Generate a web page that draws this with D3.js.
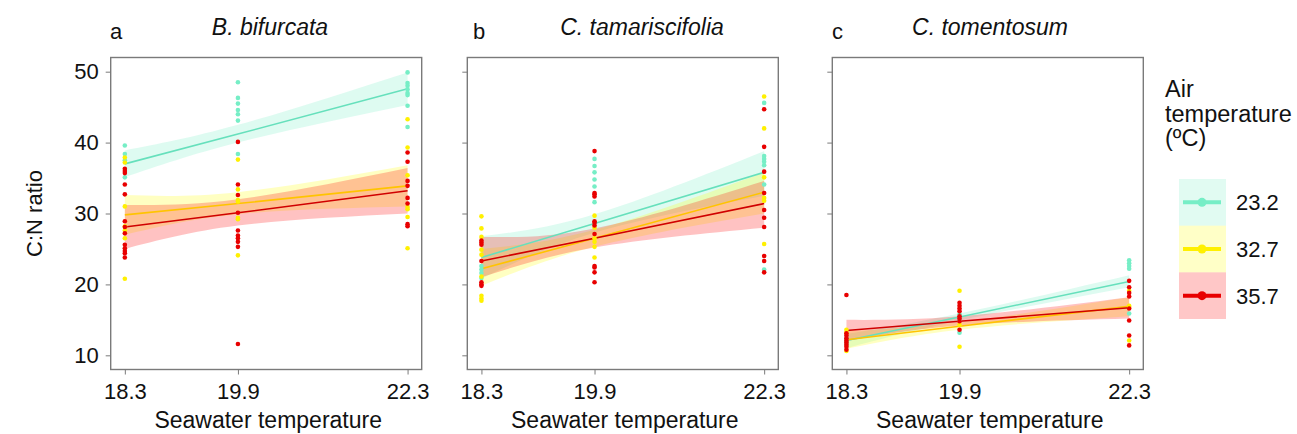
<!DOCTYPE html>
<html>
<head>
<meta charset="utf-8">
<script src="https://cdn.jsdelivr.net/npm/d3@7"></script>
<style>
body { margin: 0; background: #fff; }
svg text { font-family: "Liberation Sans", Arial, sans-serif; fill: #111; }
</style>
</head>
<body>
<div id="chart"></div>
<script>
const seawater = [18.3, 19.9, 22.3]
const airTemps = ["23.2", "32.7", "35.7"]
const species = ["B. bifurcata", "C. tamariscifolia", "C. tomentosum"]
const panelLetters = ["a", "b", "c"]
const yTicks = [10, 20, 30, 40, 50]

// C:N values, one list per seawater temperature (18.3, 19.9, 22.3)
const bif_232 = [[39.6, 38.4, 37.5, 35.1], [48.5, 46.3, 45.5, 44.6, 44.0, 43.1, 38.4], [49.9, 48.4, 48.0, 47.5, 47.0, 46.7, 45.2, 42.2]]
const bif_327 = [[37.9, 37.2, 31.0, 28.2, 27.6, 26.5, 20.8], [37.6, 33.4, 31.9, 31.7, 29.4, 29.2, 24.1], [43.3, 39.3, 35.4, 30.9, 30.6, 29.5, 25.1]]
const bif_357 = [[36.3, 36.0, 35.7, 34.1, 32.7, 28.9, 28.1, 27.2, 25.6, 25.1, 24.7, 24.4, 23.8], [40.1, 34.1, 32.6, 30.1, 27.6, 26.9, 26.5, 26.0, 25.3, 11.6], [38.6, 37.3, 34.6, 33.9, 32.2, 31.4, 28.5, 28.2]]

const tam_232 = [[22.6, 22.1, 21.6, 20.9], [37.7, 36.7, 35.8, 34.8, 33.8, 31.6], [45.6, 38.1, 37.7, 37.3, 36.8, 34.1, 22.1]]
const tam_327 = [[29.6, 27.9, 26.7, 24.9, 24.2, 21.1, 18.4, 18.0, 17.7], [29.7, 28.0, 26.5, 26.0, 25.3, 23.8], [46.5, 42.0, 35.1, 32.2, 31.8, 25.7]]
const tam_357 = [[26.2, 25.9, 25.6, 23.3, 20.3, 20.0, 19.8], [38.8, 32.9, 32.7, 32.4, 28.9, 28.7, 28.3, 27.1, 22.6, 22.4, 21.7, 20.3], [44.7, 39.4, 35.9, 32.9, 30.5, 29.4, 28.1, 24.0, 23.3, 21.7]]

const tom_232 = [[12.4, 12.0, 11.6], [15.8, 14.9, 13.2], [23.4, 23.0, 22.6, 22.2, 15.9]]
const tom_327 = [[13.6, 13.2, 10.6], [19.1, 14.3, 11.2], [19.1, 17.0, 16.8, 12.1]]
const tom_357 = [[18.5, 13.1, 12.8, 12.4, 12.1, 11.8, 11.5, 11.2, 10.8], [17.4, 17.0, 16.6, 16.2, 15.5, 15.2, 14.8, 13.6], [20.5, 19.6, 18.8, 18.3, 16.6, 14.9, 12.8, 11.4]]

// linear fit and 95% band at 18.3, 19.9, 22.3
const bif_fit = [[37.0, 41.2, 47.6], [29.8, 31.4, 33.9], [28.1, 30.1, 33.2]]
const bif_lo = [[35.1, 40.0, 45.3], [27.0, 29.9, 31.0], [25.0, 28.3, 30.0]]
const bif_hi = [[38.9, 42.5, 49.9], [32.6, 33.0, 36.8], [31.2, 32.0, 36.4]]

const tam_fit = [[23.8, 28.6, 35.8], [22.2, 26.5, 33.0], [23.3, 26.5, 31.4]]
const tam_lo = [[20.8, 27.3, 32.5], [19.8, 25.3, 30.0], [21.0, 25.2, 28.0]]
const tam_hi = [[26.8, 29.9, 38.8], [25.0, 27.7, 35.8], [26.7, 27.9, 34.6]]

const tom_fit = [[12.1, 15.4, 20.4], [12.2, 14.1, 16.9], [13.5, 14.8, 16.7]]
const tom_lo = [[11.0, 14.9, 19.6], [10.9, 13.6, 15.5], [12.0, 14.2, 15.2]]
const tom_hi = [[13.0, 15.9, 21.3], [13.4, 14.7, 18.2], [15.0, 15.5, 18.2]]

const pointColors = ["#76EEC6", "#FFF000", "#E80000"]
const lineColors = ["#66E0BC", "#FFC400", "#D00000"]
const bandColors = ["#76EEC6", "#FFFF00", "#FF0000"]

const panels = [
    {pts: [bif_232, bif_327, bif_357], fit: bif_fit, lo: bif_lo, hi: bif_hi},
    {pts: [tam_232, tam_327, tam_357], fit: tam_fit, lo: tam_lo, hi: tam_hi},
    {pts: [tom_232, tom_327, tom_357], fit: tom_fit, lo: tom_lo, hi: tom_hi}
]

const width = 1297, height = 434
const panelLeft = [110.7, 467.3, 832.3]
const panelW = 311
const plotTop = 57.5, plotBottom = 369.5
const titleX = [270, 642, 990]
const letterX = [110, 473, 832]

const svg = d3.select("#chart").append("svg")
    .attr("width", width).attr("height", height)
    .attr("viewBox", "0 0 " + width + " " + height)

const y = d3.scaleLinear().domain([8, 52]).range([plotBottom, plotTop])

panels.forEach((p, i) => {
    const x = d3.scaleLinear().domain([18.1, 22.5]).range([panelLeft[i], panelLeft[i] + panelW])
    const g = svg.append("g")

    // bands
    p.fit.forEach((f, k) => {
        const area = d3.area()
            .x((d, j) => x(seawater[j]))
            .y0((d, j) => y(p.lo[k][j]))
            .y1((d, j) => y(p.hi[k][j]))
            .curve(d3.curveNatural)
        g.append("path").datum(f).attr("d", area)
            .attr("fill", bandColors[k]).attr("fill-opacity", 0.24)
    })
    // fitted lines
    p.fit.forEach((f, k) => {
        const line = d3.line().x((d, j) => x(seawater[j])).y(d => y(d))
        g.append("path").datum(f).attr("d", line)
            .attr("fill", "none").attr("stroke", lineColors[k]).attr("stroke-width", 1.6)
    })
    // points
    p.pts.forEach((grp, k) => {
        const flat = []
        grp.forEach((vals, j) => vals.forEach(v => flat.push([seawater[j], v])))
        g.selectAll(".pt" + k).data(flat).join("circle")
            .attr("class", "pt" + k)
            .attr("cx", d => x(d[0])).attr("cy", d => y(d[1]))
            .attr("r", 2.3).attr("fill", pointColors[k])
    })

    // frame
    g.append("rect").attr("x", panelLeft[i]).attr("y", plotTop)
        .attr("width", panelW).attr("height", plotBottom - plotTop)
        .attr("fill", "none").attr("stroke", "#7a7a7a").attr("stroke-width", 1.4)

    // axes
    const xAxis = d3.axisBottom(x).tickValues(seawater).tickFormat(d3.format(".1f")).tickSize(5).tickPadding(9)
    const gx = g.append("g").attr("transform", "translate(0," + plotBottom + ")").call(xAxis)
    gx.select(".domain").remove()
    gx.selectAll("line").attr("stroke", "#7a7a7a")
    gx.selectAll("text").attr("font-size", 22).attr("fill", "#111")

    const yAxis = d3.axisLeft(y).tickValues(yTicks).tickSize(5).tickPadding(7)
    if (i > 0) yAxis.tickFormat("")
    const gy = g.append("g").attr("transform", "translate(" + panelLeft[i] + ",0)").call(yAxis)
    gy.select(".domain").remove()
    gy.selectAll("line").attr("stroke", "#7a7a7a")
    gy.selectAll("text").attr("font-size", 22).attr("fill", "#111")

    // titles
    svg.append("text").attr("x", letterX[i]).attr("y", 39).attr("font-size", 22).text(panelLetters[i])
    svg.append("text").attr("x", titleX[i]).attr("y", 35).attr("font-size", 23)
        .attr("font-style", "italic").attr("text-anchor", "middle").text(species[i])
    svg.append("text").attr("x", panelLeft[i] + panelW / 2 + 2).attr("y", 428).attr("font-size", 23)
        .attr("text-anchor", "middle").text("Seawater temperature")
})

svg.append("text").attr("transform", "translate(42," + (plotTop + plotBottom) / 2 + ") rotate(-90)")
    .attr("font-size", 22).attr("text-anchor", "middle").text("C:N ratio")

// legend
const legend = svg.append("g")
const legTitle = ["Air", "temperature", "(\u00BAC)"]
legend.selectAll(".lt").data(legTitle).join("text").attr("class", "lt")
    .attr("x", 1165).attr("y", (d, i) => 97 + i * 24.5).attr("font-size", 23.5).text(d => d)

const keyY = d3.scaleBand().domain(airTemps).range([179, 319])
airTemps.forEach((t, k) => {
    const cy = keyY(t) + keyY.bandwidth() / 2
    legend.append("rect").attr("x", 1179).attr("y", keyY(t)).attr("width", 47).attr("height", keyY.bandwidth())
        .attr("fill", bandColors[k]).attr("fill-opacity", 0.22)
    legend.append("line").attr("x1", 1183).attr("x2", 1221).attr("y1", cy).attr("y2", cy)
        .attr("stroke", pointColors[k]).attr("stroke-width", 4)
    legend.append("circle").attr("cx", 1202).attr("cy", cy).attr("r", 4.5).attr("fill", pointColors[k])
    legend.append("text").attr("x", 1236).attr("y", cy + 8).attr("font-size", 22).text(t)
})
</script>
</body>
</html>
